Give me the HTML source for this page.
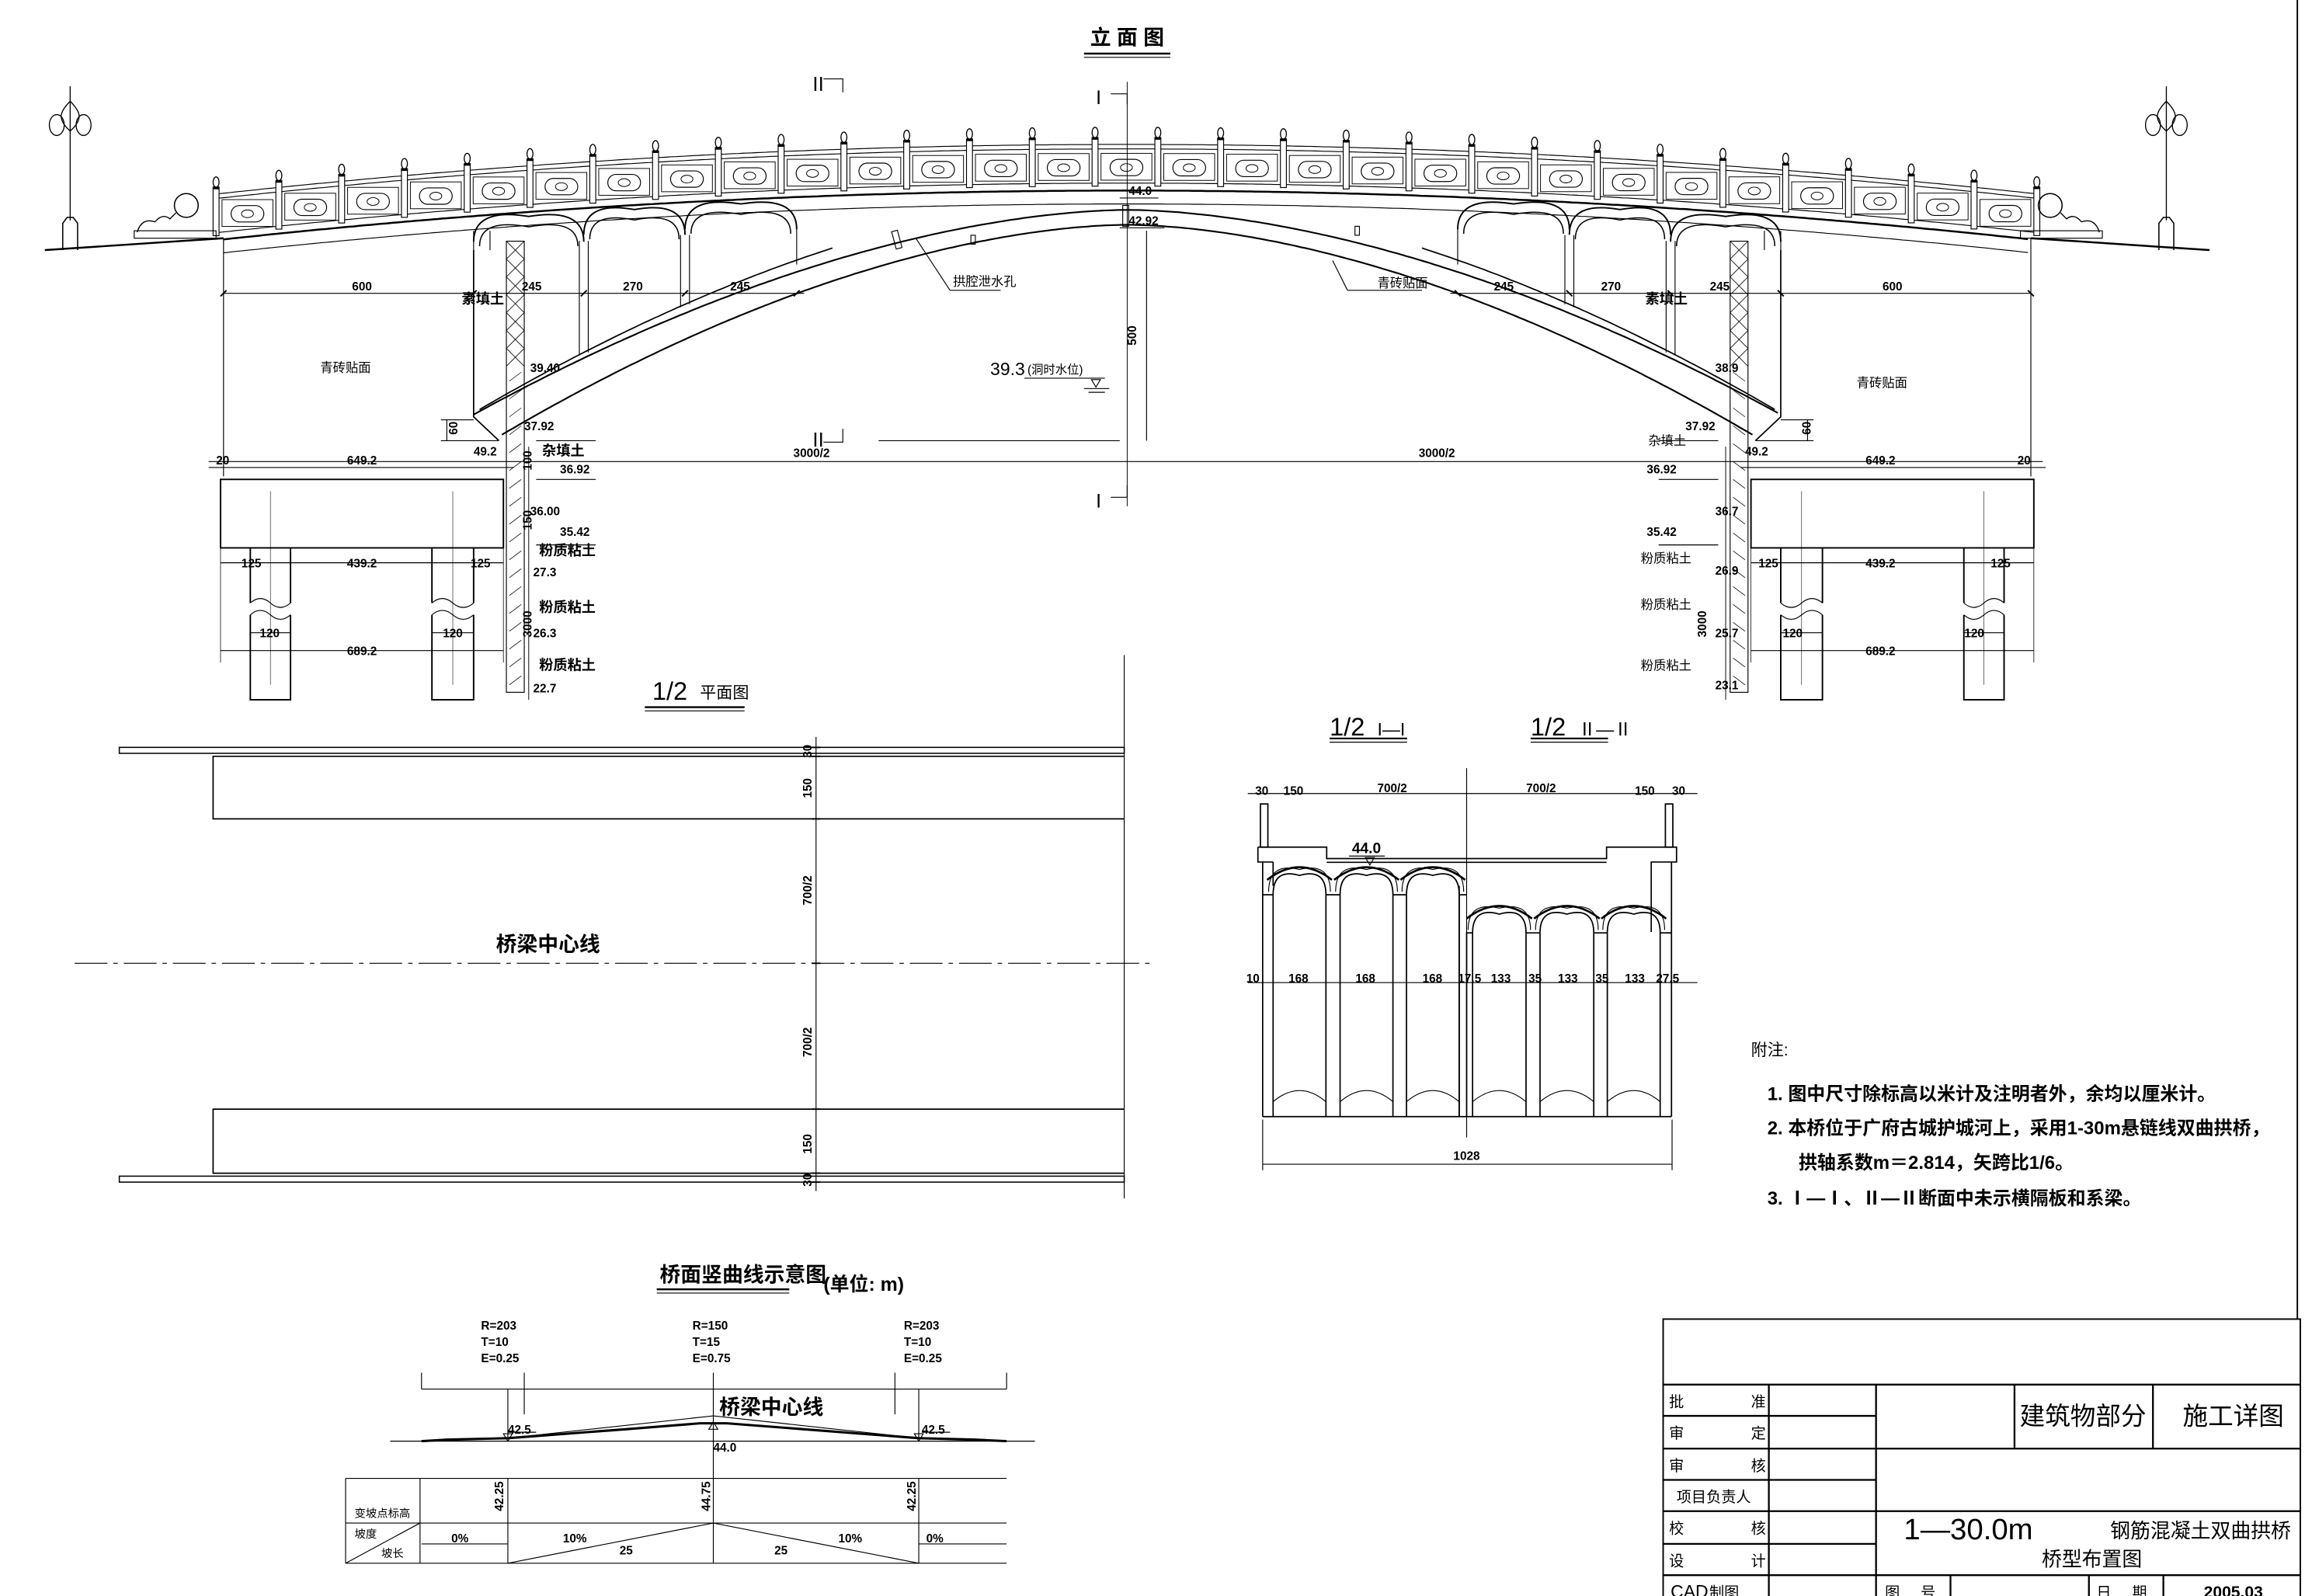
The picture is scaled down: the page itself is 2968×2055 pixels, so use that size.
<!DOCTYPE html>
<html><head><meta charset="utf-8">
<style>
html,body{margin:0;padding:0;background:#fff;}
svg{display:block;}
text{fill:#000;}
.n{font-family:"Liberation Sans",sans-serif;font-weight:bold;font-size:8px;}
.c{font-family:"Liberation Sans","Noto Sans CJK SC",sans-serif;font-size:8.5px;}
.cb{font-family:"Liberation Sans","Noto Sans CJK SC",sans-serif;font-size:9.5px;font-weight:bold;}
</style></head><body>
<svg id="s" width="2968" height="2055" viewBox="0 0 1548 1072" xmlns="http://www.w3.org/2000/svg" fill="none" stroke="#000" stroke-width="0.6">
<g id="gen"></g>
<!-- Frame -->
<line x1="1543" y1="0" x2="1543" y2="886" stroke-width="1"/>
<!-- Elevation title -->
<text x="757" y="30" class="cb" style="font-size:14px" text-anchor="middle" stroke="none" fill="#000">立 面 图</text>
<line x1="728" y1="36" x2="786" y2="36" stroke-width="1.3"/><line x1="728" y1="38.5" x2="786" y2="38.5" stroke-width="0.6"/>

<!-- center line -->
<line x1="757" y1="55" x2="757" y2="340" stroke-width="0.5"/>
<!-- section marks -->
<text x="543" y="61" class="c" style="font-size:13px" stroke="none">Ⅱ</text>
<polyline points="553,53 566,53 566,62"/>
<text x="736" y="70" class="c" style="font-size:13px" stroke="none">I</text>
<polyline points="746,63 757,63 757,70"/>
<text x="543" y="300" class="c" style="font-size:13px" stroke="none">Ⅱ</text>
<polyline points="553,297 566,297 566,288"/>
<text x="736" y="341" class="c" style="font-size:13px" stroke="none">I</text>
<polyline points="746,334 757,334 757,326"/>

<!-- elevations crown -->
<text x="758" y="131" class="n" stroke="none">44.0</text><line x1="752" y1="133" x2="778" y2="133"/>
<text x="758" y="151" class="n" stroke="none">42.92</text><line x1="752" y1="153" x2="782" y2="153"/>
<rect x="754" y="138" width="4" height="14"/>
<!-- 500 dim -->
<line x1="770" y1="155" x2="770" y2="296"/>
<text x="0" y="0" class="n" stroke="none" transform="translate(763,232) rotate(-90)">500</text>
<line x1="590" y1="296" x2="752" y2="296"/>
<text x="665" y="252" class="c" style="font-size:12px" stroke="none">39.3</text>
<text x="690" y="251" class="c" style="font-size:8px" stroke="none">(洞时水位)</text>
<line x1="688" y1="254" x2="742" y2="254"/>
<polygon points="733,255 739,255 736,260"/>
<line x1="728" y1="261" x2="745" y2="261"/><line x1="731" y1="263.5" x2="742" y2="263.5"/>
<!-- span dim -->
<line x1="140" y1="310" x2="1372" y2="310"/>
<text x="545" y="307" class="n" text-anchor="middle" stroke="none">3000/2</text>
<text x="965" y="307" class="n" text-anchor="middle" stroke="none">3000/2</text>
<text x="640" y="192" class="c" stroke="none">拱腔泄水孔</text>
<line x1="638" y1="195" x2="672" y2="195"/><line x1="615" y1="160" x2="638" y2="195"/>
<text x="925" y="193" class="c" stroke="none">青砖贴面</text>
<line x1="905" y1="195" x2="955" y2="195"/><line x1="905" y1="195" x2="895" y2="175"/>

<!-- left labels -->
<g stroke="none">
<text x="243" y="195" class="n" text-anchor="middle">600</text>
<text x="357" y="195" class="n" text-anchor="middle">245</text>
<text x="425" y="195" class="n" text-anchor="middle">270</text>
<text x="497" y="195" class="n" text-anchor="middle">245</text>
<text x="310" y="204" class="cb">素填土</text>
<text x="215" y="250" class="c">青砖贴面</text>
<text x="356" y="250" class="n">39.40</text>
<text x="352" y="289" class="n">37.92</text>
<text x="364" y="306" class="cb">杂填土</text>
<text x="376" y="318" class="n">36.92</text>
<text x="356" y="346" class="n">36.00</text>
<text x="376" y="360" class="n">35.42</text>
<text x="362" y="373" class="cb">粉质粘土</text>
<text x="358" y="387" class="n">27.3</text>
<text x="362" y="411" class="cb">粉质粘土</text>
<text x="358" y="428" class="n">26.3</text>
<text x="362" y="450" class="cb">粉质粘土</text>
<text x="358" y="465" class="n">22.7</text>
<text x="145" y="312" class="n">20</text>
<text x="243" y="312" class="n" text-anchor="middle">649.2</text>
<text x="318" y="306" class="n">49.2</text>
<text x="162" y="381" class="n">125</text>
<text x="243" y="381" class="n" text-anchor="middle">439.2</text>
<text x="316" y="381" class="n">125</text>
<text x="181" y="428" class="n" text-anchor="middle">120</text>
<text x="304" y="428" class="n" text-anchor="middle">120</text>
<text x="243" y="440" class="n" text-anchor="middle">689.2</text>
<text x="0" y="0" class="n" transform="translate(307,292) rotate(-90)">60</text>
<text x="0" y="0" class="n" transform="translate(357,316) rotate(-90)">100</text>
<text x="0" y="0" class="n" transform="translate(357,356) rotate(-90)">150</text>
<text x="0" y="0" class="n" transform="translate(357,428) rotate(-90)">3000</text>
</g>
<!-- right labels -->
<g stroke="none">
<text x="1271" y="195" class="n" text-anchor="middle">600</text>
<text x="1155" y="195" class="n" text-anchor="middle">245</text>
<text x="1082" y="195" class="n" text-anchor="middle">270</text>
<text x="1010" y="195" class="n" text-anchor="middle">245</text>
<text x="1105" y="204" class="cb">素填土</text>
<text x="1247" y="260" class="c">青砖贴面</text>
<text x="1152" y="250" class="n">38.9</text>
<text x="1132" y="289" class="n">37.92</text>
<text x="1107" y="299" class="c">杂填土</text>
<text x="1172" y="306" class="n">49.2</text>
<text x="1106" y="318" class="n">36.92</text>
<text x="1152" y="346" class="n">36.7</text>
<text x="1106" y="360" class="n">35.42</text>
<text x="1102" y="378" class="c">粉质粘土</text>
<text x="1152" y="386" class="n">26.9</text>
<text x="1102" y="409" class="c">粉质粘土</text>
<text x="1152" y="428" class="n">25.7</text>
<text x="1102" y="450" class="c">粉质粘土</text>
<text x="1152" y="463" class="n">23.1</text>
<text x="1263" y="312" class="n" text-anchor="middle">649.2</text>
<text x="1355" y="312" class="n">20</text>
<text x="1181" y="381" class="n">125</text>
<text x="1263" y="381" class="n" text-anchor="middle">439.2</text>
<text x="1337" y="381" class="n">125</text>
<text x="1204" y="428" class="n" text-anchor="middle">120</text>
<text x="1326" y="428" class="n" text-anchor="middle">120</text>
<text x="1263" y="440" class="n" text-anchor="middle">689.2</text>
<text x="0" y="0" class="n" transform="translate(1216,292) rotate(-90)">60</text>
<text x="0" y="0" class="n" transform="translate(1146,428) rotate(-90)">3000</text>
</g>

<!-- Plan view -->
<text x="438" y="470" class="c" style="font-size:17px" stroke="none">1/2</text>
<text x="470" y="469" class="c" style="font-size:11px" stroke="none">平面图</text>
<line x1="433" y1="475" x2="500" y2="475" stroke-width="1.2"/><line x1="433" y1="477.5" x2="500" y2="477.5"/>
<line x1="755" y1="440" x2="755" y2="805"/>
<rect x="80" y="502" width="675" height="4" stroke-width="0.8"/>
<polyline points="755,508 143,508 143,550 755,550" stroke-width="0.9"/>
<line x1="50" y1="647" x2="775" y2="647" stroke-dasharray="22,4,3,4"/>
<polyline points="755,745 143,745 143,788 755,788" stroke-width="0.9"/>
<rect x="80" y="790" width="675" height="4" stroke-width="0.8"/>
<line x1="548" y1="495" x2="548" y2="800"/>
<g stroke-width="1"><line x1="545" y1="502" x2="551" y2="502"/><line x1="545" y1="508" x2="551" y2="508"/><line x1="545" y1="550" x2="551" y2="550"/><line x1="545" y1="647" x2="551" y2="647"/><line x1="545" y1="745" x2="551" y2="745"/><line x1="545" y1="788" x2="551" y2="788"/><line x1="545" y1="794" x2="551" y2="794"/></g>
<g stroke="none">
<text x="0" y="0" class="n" transform="translate(545,509) rotate(-90)">30</text>
<text x="0" y="0" class="n" transform="translate(545,536) rotate(-90)">150</text>
<text x="0" y="0" class="n" transform="translate(545,608) rotate(-90)">700/2</text>
<text x="0" y="0" class="n" transform="translate(545,710) rotate(-90)">700/2</text>
<text x="0" y="0" class="n" transform="translate(545,775) rotate(-90)">150</text>
<text x="0" y="0" class="n" transform="translate(545,797) rotate(-90)">30</text>
<text x="333" y="639" class="cb" style="font-size:14px">桥梁中心线</text>
</g>

<!-- Cross sections -->
<g stroke="none">
<text x="893" y="494" class="c" style="font-size:17px">1/2</text>
<text x="925" y="494" class="c" style="font-size:12px">I—I</text>
<text x="1028" y="494" class="c" style="font-size:17px">1/2</text>
<text x="1060" y="494" class="c" style="font-size:12px">Ⅱ—Ⅱ</text>
</g>
<line x1="893" y1="496" x2="945" y2="496" stroke-width="1.1"/><line x1="893" y1="498.5" x2="945" y2="498.5"/>
<line x1="1028" y1="496" x2="1080" y2="496" stroke-width="1.1"/><line x1="1028" y1="498.5" x2="1080" y2="498.5"/>
<line x1="985" y1="516" x2="985" y2="764"/>
<line x1="838" y1="533" x2="1140" y2="533"/>
<g stroke="none">
<text x="843" y="534" class="n">30</text><text x="862" y="534" class="n">150</text>
<text x="935" y="532" class="n" text-anchor="middle">700/2</text><text x="1035" y="532" class="n" text-anchor="middle">700/2</text>
<text x="1098" y="534" class="n">150</text><text x="1123" y="534" class="n">30</text>
<text x="908" y="573" class="n" style="font-size:10px">44.0</text>
<text x="837" y="660" class="n">10</text><text x="872" y="660" class="n" text-anchor="middle">168</text>
<text x="917" y="660" class="n" text-anchor="middle">168</text><text x="962" y="660" class="n" text-anchor="middle">168</text>
<text x="987" y="660" class="n" text-anchor="middle">17.5</text><text x="1008" y="660" class="n" text-anchor="middle">133</text>
<text x="1031" y="660" class="n" text-anchor="middle">35</text><text x="1053" y="660" class="n" text-anchor="middle">133</text>
<text x="1076" y="660" class="n" text-anchor="middle">35</text><text x="1098" y="660" class="n" text-anchor="middle">133</text>
<text x="1120" y="660" class="n" text-anchor="middle">27.5</text>
<text x="985" y="779" class="n" text-anchor="middle">1028</text>
</g>
<line x1="838" y1="660" x2="1140" y2="660"/>
<line x1="848" y1="782" x2="1123" y2="782"/>
<line x1="848" y1="752" x2="848" y2="786"/><line x1="1123" y1="752" x2="1123" y2="786"/>
<line x1="906" y1="575" x2="930" y2="575"/><polygon points="917,576 923,576 920,581"/>

<!-- Notes -->
<g stroke="none">
<text x="1176" y="709" class="c" style="font-size:11px">附注:</text>
<text x="1187" y="739" class="cb" style="font-size:12.5px">1. 图中尺寸除标高以米计及注明者外，余均以厘米计。</text>
<text x="1187" y="762" class="cb" style="font-size:12.5px">2. 本桥位于广府古城护城河上，采用1-30m悬链线双曲拱桥，</text>
<text x="1208" y="785" class="cb" style="font-size:12.5px">拱轴系数m＝2.814，矢跨比1/6。</text>
<text x="1187" y="809" class="cb" style="font-size:12.5px">3. Ⅰ—Ⅰ、Ⅱ—Ⅱ断面中未示横隔板和系梁。</text>
</g>

<!-- Profile diagram -->
<g stroke="none">
<text x="443" y="861" class="cb" style="font-size:14px">桥面竖曲线示意图</text>
<text x="553" y="867" class="cb" style="font-size:13px">(单位: m)</text>
<text x="323" y="893" class="n">R=203</text><text x="323" y="904" class="n">T=10</text><text x="323" y="915" class="n">E=0.25</text>
<text x="465" y="893" class="n">R=150</text><text x="465" y="904" class="n">T=15</text><text x="465" y="915" class="n">E=0.75</text>
<text x="607" y="893" class="n">R=203</text><text x="607" y="904" class="n">T=10</text><text x="607" y="915" class="n">E=0.25</text>
<text x="483" y="950" class="cb" style="font-size:14px">桥梁中心线</text>
<text x="341" y="963" class="n">42.5</text><text x="619" y="963" class="n">42.5</text>
<text x="479" y="975" class="n">44.0</text>
<text x="0" y="0" class="n" transform="translate(338,1015) rotate(-90)">42.25</text>
<text x="0" y="0" class="n" transform="translate(477,1015) rotate(-90)">44.75</text>
<text x="0" y="0" class="n" transform="translate(615,1015) rotate(-90)">42.25</text>
<text x="238" y="1019" class="c" style="font-size:7.5px">变坡点标高</text>
<text x="238" y="1033" class="c" style="font-size:7.5px">坡度</text>
<text x="256" y="1046" class="c" style="font-size:7.5px">坡长</text>
<text x="303" y="1036" class="n">0%</text><text x="378" y="1036" class="n">10%</text>
<text x="416" y="1044" class="n">25</text><text x="520" y="1044" class="n">25</text>
<text x="563" y="1036" class="n">10%</text><text x="622" y="1036" class="n">0%</text>
</g>
<line x1="441" y1="866" x2="530" y2="866" stroke-width="1.3"/><line x1="441" y1="868.5" x2="530" y2="868.5"/>
<line x1="283" y1="933" x2="676" y2="933"/>
<line x1="283" y1="922" x2="283" y2="933"/><line x1="676" y1="922" x2="676" y2="933"/>
<line x1="352" y1="922" x2="352" y2="950"/><line x1="601" y1="922" x2="601" y2="950"/>
<line x1="479" y1="922" x2="479" y2="1050"/>
<line x1="341" y1="933" x2="341" y2="966"/><line x1="617" y1="933" x2="617" y2="966"/>
<line x1="262" y1="968" x2="695" y2="968"/>
<polyline points="283,968 300,967 341,966 420,960 470,956 488,956 540,960 617,966 655,967 676,968" stroke-width="1.6"/>
<polyline points="341,966 479,951 617,966"/>
<line x1="341" y1="962" x2="360" y2="962"/><line x1="619" y1="962" x2="638" y2="962"/>
<polygon points="338,963 344,963 341,968"/><polygon points="614,963 620,963 617,968"/>
<polygon points="476,960 482,960 479,955"/>
<line x1="232" y1="993" x2="676" y2="993"/><line x1="232" y1="1023" x2="676" y2="1023"/><line x1="232" y1="1050" x2="676" y2="1050"/>
<line x1="232" y1="993" x2="232" y2="1050"/><line x1="282" y1="993" x2="282" y2="1050"/>
<line x1="341" y1="993" x2="341" y2="1050"/><line x1="617" y1="993" x2="617" y2="1050"/>
<line x1="283" y1="1037" x2="341" y2="1037"/><line x1="617" y1="1037" x2="676" y2="1037"/>
<polyline points="341,1050 479,1023 617,1050"/>
<line x1="232" y1="1050" x2="282" y2="1023"/>

<!-- Title block -->
<g stroke-width="1.2">
<rect x="1117" y="886" width="428" height="195" stroke-width="1"/>
<line x1="1117" y1="930" x2="1545" y2="930"/>
<line x1="1117" y1="951" x2="1260" y2="951"/>
<line x1="1117" y1="973" x2="1545" y2="973"/>
<line x1="1117" y1="994" x2="1260" y2="994"/>
<line x1="1117" y1="1015" x2="1545" y2="1015"/>
<line x1="1117" y1="1037" x2="1260" y2="1037"/>
<line x1="1117" y1="1058" x2="1545" y2="1058"/>
<line x1="1260" y1="1079" x2="1545" y2="1079"/>
<line x1="1188" y1="930" x2="1188" y2="1072"/>
<line x1="1260" y1="930" x2="1260" y2="1072"/>
<line x1="1353" y1="930" x2="1353" y2="973"/>
<line x1="1446" y1="930" x2="1446" y2="973"/>
<line x1="1310" y1="1058" x2="1310" y2="1079"/>
<line x1="1403" y1="1058" x2="1403" y2="1079"/>
<line x1="1453" y1="1058" x2="1453" y2="1079"/>
</g>
<g stroke="none" class="c" style="font-size:10px">
<text x="1121" y="945">批</text><text x="1176" y="945">准</text>
<text x="1121" y="966">审</text><text x="1176" y="966">定</text>
<text x="1121" y="988">审</text><text x="1176" y="988">核</text>
<text x="1126" y="1009">项目负责人</text>
<text x="1121" y="1030">校</text><text x="1176" y="1030">核</text>
<text x="1121" y="1052">设</text><text x="1176" y="1052">计</text>
<text x="1122" y="1073" style="font-size:12px">CAD</text><text x="1148" y="1073">制图</text>
<text x="1399" y="957" text-anchor="middle" style="font-size:17px">建筑物部分</text>
<text x="1500" y="957" text-anchor="middle" style="font-size:17px">施工详图</text>
<text x="1322" y="1034" text-anchor="middle" style="font-size:20px;font-weight:300">1—30.0m</text>
<text x="1478" y="1033" text-anchor="middle" style="font-size:13.5px">钢筋混凝土双曲拱桥</text>
<text x="1405" y="1052" text-anchor="middle" style="font-size:13.5px">桥型布置图</text>
<text x="1266" y="1073">图</text><text x="1290" y="1073">号</text>
<text x="1408" y="1073">日</text><text x="1432" y="1073">期</text>
<text x="1500" y="1073" text-anchor="middle" class="n" style="font-size:11px">2005.03</text>
</g>
</svg>
<script>
(function(){
var NS="http://www.w3.org/2000/svg",G=document.getElementById('gen');
function el(t,a,p){var e=document.createElementNS(NS,t);for(var k in a)e.setAttribute(k,a[k]);(p||G).appendChild(e);return e;}
function pl(pts,a,p){a=a||{};a.points=pts.map(function(q){return q[0].toFixed(1)+','+q[1].toFixed(1)}).join(' ');return el('polyline',a,p);}
function deck(x){return 128+8.9e-5*(x-757)*(x-757);}
function curve(f,x0,x1){var r=[];for(var x=x0;x<=x1+0.01;x+=3)r.push([x,f(x)]);return r;}
// ground
pl([[30,168],[150,160]],{'stroke-width':1.3});
pl([[1364,160],[1484,168]],{'stroke-width':1.3});
// deck lines
pl(curve(deck,150,1364),{'stroke-width':1.3});
pl(curve(function(x){return deck(x)+9;},150,1364),{'stroke-width':0.6});
pl([[150,160],[150,168]]);pl([[1364,160],[1364,168]]);
// railing
var n=29,x0=145,x1=1368,sp=(x1-x0)/n;
pl(curve(function(x){return deck(x)-31;},x0,x1));
pl(curve(function(x){return deck(x)-28;},x0,x1));
pl(curve(function(x){return deck(x)-5;},x0,x1));
for(var i=0;i<=n;i++){var x=x0+i*sp,d=deck(x);
 el('rect',{x:x-2,y:d-35,width:4,height:32,fill:'#fff','stroke-width':0.6});
 el('ellipse',{cx:x,cy:d-39,rx:2,ry:3.5,'stroke-width':0.7});
 el('rect',{x:x-2.3,y:d-36,width:4.6,height:1.8,fill:'#000',stroke:'none'});
 if(i<n){var m=x+sp/2,dm=deck(m);
  el('rect',{x:x+4,y:dm-25,width:sp-8,height:18,'stroke-width':0.5});
  el('rect',{x:m-11,y:dm-21,width:22,height:11,rx:5.5,'stroke-width':0.6});
  el('ellipse',{cx:m,cy:dm-15.5,rx:4,ry:2.6,'stroke-width':0.5});}
}
// end decorations
function endDeco(p){el('circle',{cx:125,cy:138,r:8,'stroke-width':0.8},p);el('path',{d:'M92,156 q3,-10 12,-7 q5,-6 10,-2 l4,-4',fill:'none','stroke-width':0.7},p);el('rect',{x:90,y:155,width:55,height:5,'stroke-width':0.6},p);
 // lamp
 el('line',{x1:47,y1:58,x2:47,y2:148,'stroke-width':0.7},p);
 el('path',{d:'M47,68 C40,75 38,80 47,88 C56,80 54,75 47,68 Z',fill:'none','stroke-width':0.7},p);
 el('ellipse',{cx:38,cy:84,rx:5,ry:7,'stroke-width':0.7},p);el('ellipse',{cx:56,cy:84,rx:5,ry:7,'stroke-width':0.7},p);
 el('path',{d:'M42,168 L42,150 L45,146 L49,146 L52,150 L52,168',fill:'none','stroke-width':0.8},p);}
endDeco();
var R=el('g',{transform:'translate(1502,0) scale(-1,1)'});endDeco(R);
// main arch
function intr(x){var u=Math.abs(x-757)/420;return 151+141*Math.pow(u,1.75);}
function extr(x){var u=Math.abs(x-757)/440;return 141+138*Math.pow(u,1.75);}
function rib(x){var u=Math.abs(x-757)/440;return 130+148*Math.pow(u,1.75);}
pl(curve(intr,337,1177),{'stroke-width':1.1});
pl(curve(extr,318,1196),{'stroke-width':1.1});
// drain marks
el('rect',{x:600,y:155,width:4,height:12,transform:'rotate(-15 602 160)'});
el('rect',{x:652,y:158,width:3,height:6});
el('rect',{x:910,y:152,width:3,height:6});
function side(p){
 pl(curve(rib,322,560),{'stroke-width':0.9},p);
 // spandrel arches
 var spans=[[318,392],[392,460],[460,535]];
 spans.forEach(function(s){var a=s[0],b=s[1],m=(a+b)/2,t=deck(m)+3,h=(b-a)/2;
  el('path',{d:'M'+a+','+(t+17)+' Q'+a+','+(t-6)+' '+m+','+t+' Q'+b+','+(t-6)+' '+b+','+(t+17),'stroke-width':1},p);
  el('path',{d:'M'+(a+4)+','+(t+20)+' Q'+(a+4)+','+(t+1)+' '+m+','+(t+7)+' Q'+(b-4)+','+(t+1)+' '+(b-4)+','+(t+20),'stroke-width':0.8},p);});
 // piers between arches
 [[392,rib(392)],[460,rib(460)]].forEach(function(q){el('line',{x1:q[0]-3,y1:deck(q[0])+22,x2:q[0]-3,y2:q[1]+2},p);el('line',{x1:q[0]+3,y1:deck(q[0])+22,x2:q[0]+3,y2:q[1]},p);});
 el('line',{x1:535,y1:deck(535)+20,x2:535,y2:rib(535)+3},p);
 // abutment
 el('line',{x1:150,y1:168,x2:150,y2:320},p);
 pl([[318,168],[318,280],[335,296]],{'stroke-width':0.9},p);
 el('line',{x1:318,y1:155,x2:318,y2:168},p);el('line',{x1:329,y1:155,x2:329,y2:168},p);
 // hatched column
 el('rect',{x:340,y:162,width:12,height:303,'stroke-width':0.6},p);
 for(var y=162;y<245;y+=12){el('line',{x1:340,y1:y,x2:352,y2:y+12,'stroke-width':0.4},p);el('line',{x1:352,y1:y,x2:340,y2:y+12,'stroke-width':0.4},p);}
 for(var y=250;y<460;y+=12){el('line',{x1:342,y1:y+6,x2:350,y2:y,'stroke-width':0.4},p);}
 // dims top
 el('line',{x1:150,y1:197,x2:540,y2:197},p);
 [150,318,392,460,535].forEach(function(x){el('line',{x1:x-2,y1:199,x2:x+2,y2:195,'stroke-width':1},p);});
 // foundation
 el('rect',{x:148,y:322,width:190,height:46,'stroke-width':1},p);
 [[168,195],[290,318]].forEach(function(q){
  el('path',{d:'M'+q[0]+',368 L'+q[0]+',405 M'+q[1]+',368 L'+q[1]+',405 M'+q[0]+',413 L'+q[0]+',470 L'+q[1]+',470 L'+q[1]+',413','stroke-width':1},p);
  var w=q[1]-q[0];
  el('path',{d:'M'+q[0]+',405 q'+w/4+',-6 '+w/2+',0 q'+w/4+',6 '+w/2+',0 M'+q[0]+',413 q'+w/4+',-6 '+w/2+',0 q'+w/4+',6 '+w/2+',0',fill:'none','stroke-width':0.6},p);
  el('line',{x1:(q[0]+q[1])/2,y1:330,x2:(q[0]+q[1])/2,y2:460,'stroke-width':0.3},p);});
 // dim lines
 el('line',{x1:140,y1:314,x2:345,y2:314},p);
 el('line',{x1:148,y1:378,x2:338,y2:378},p);
 el('line',{x1:168,y1:425,x2:195,y2:425},p);el('line',{x1:290,y1:425,x2:318,y2:425},p);
 el('line',{x1:148,y1:437,x2:338,y2:437},p);
 el('line',{x1:148,y1:368,x2:148,y2:445,'stroke-width':0.4},p);
 el('line',{x1:338,y1:368,x2:338,y2:445,'stroke-width':0.4},p);
 // level marks
 [[360,296],[360,322],[360,366]].forEach(function(q){el('line',{x1:q[0],y1:q[1],x2:q[0]+40,y2:q[1]},p);});
 el('line',{x1:355,y1:300,x2:355,y2:470,'stroke-width':0.5},p);
 el('line',{x1:300,y1:282,x2:300,y2:296},p);el('line',{x1:296,y1:282,x2:318,y2:282},p);el('line',{x1:296,y1:296,x2:335,y2:296},p);
}
side();
var RS=el('g',{transform:'translate(1514,0) scale(-1,1)'});side(RS);
// cross section
var C=el('g',{'stroke-width':0.9});
el('rect',{x:846.5,y:540,width:5,height:29},C);el('rect',{x:1118.5,y:540,width:5,height:29},C);
pl([[844.8,569],[891,569],[891,576.7],[1079,576.7],[1079,569],[1126,569],[1126,579],[1109,579],[1109,626]],{},C);
pl([[844.8,569],[844.8,579],[855,579]],{},C);
el('line',{x1:891,y1:579.2,x2:1079,y2:579.2},C);
el('line',{x1:848,y1:579,x2:848,y2:750},C);el('line',{x1:1122.6,y1:579,x2:1122.6,y2:750},C);
el('line',{x1:848,y1:750,x2:1122.6,y2:750},C);
el('line',{x1:855,y1:579,x2:855,y2:595},C);
function bays(list,spring,crown,top){list.forEach(function(b){var a=b[0],c=b[1],m=(a+c)/2;
  el('path',{d:'M'+a+','+spring+' Q'+a+','+(crown-5)+' '+m+','+crown+' Q'+c+','+(crown-5)+' '+c+','+spring},C);
  el('path',{d:'M'+(a-3)+','+(spring-2)+' Q'+(a-3)+','+(crown-9)+' '+m+','+(crown-4)+' Q'+(c+3)+','+(crown-9)+' '+(c+3)+','+(spring-2),'stroke-width':0.6},C);
  el('path',{d:'M'+(a-4)+','+(crown+3)+' Q'+m+','+(crown-14)+' '+(c+4)+','+(crown+3),'stroke-width':1.4},C);
  el('line',{x1:a,y1:spring,x2:a,y2:750},C);el('line',{x1:c,y1:spring,x2:c,y2:750},C);
  el('path',{d:'M'+a+',740 Q'+m+',725 '+c+',740','stroke-width':0.6},C);});}
bays([[855,890.5],[900,935.5],[944.6,980]],601,588);
bays([[989,1024.9],[1034.3,1070.4],[1079.5,1115]],626.6,614);
[[848,855],[890.5,900],[935.5,944.6],[980,985]].forEach(function(q){el('line',{x1:q[0],y1:601,x2:q[1],y2:601},C);});
[[985,989],[1024.9,1034.3],[1070.4,1079.5],[1115,1122.6]].forEach(function(q){el('line',{x1:q[0],y1:626.6,x2:q[1],y2:626.6},C);});
el('line',{x1:985,y1:626,x2:985,y2:750},C);el('line',{x1:980,y1:595,x2:980,y2:750},C);
})();
</script>
</body></html>
